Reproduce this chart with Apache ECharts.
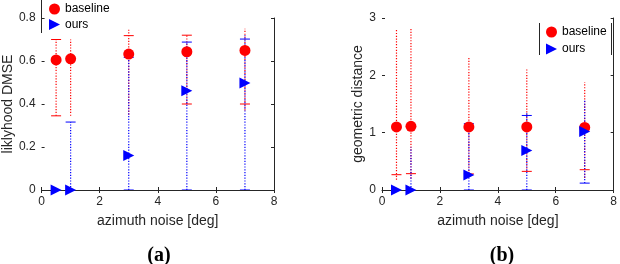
<!DOCTYPE html>
<html>
<head>
<meta charset="utf-8">
<script src="https://cdn.jsdelivr.net/npm/echarts@6/dist/echarts.min.js"></script>
<style>html,body{margin:0;padding:0;background:#fff}#c{width:620px;height:264px}</style>
</head>
<body>
<div id="c"></div>
<script>
// ---- data ----
const noise = [0.5, 1, 3, 5, 7];
const xTicks = [0, 2, 4, 6, 8];
const aYTicks = [0, 0.2, 0.4, 0.6, 0.8];
const bYTicks = [0, 1, 2, 3];

// (a) liklyhood DMSE
const aBaseMean   = [0.605, 0.61, 0.632, 0.643, 0.649];
const aBaseLineLo = [0.345, 0.345, 0.35, 0.40, 0.37];
const aBaseLineHi = [0.70, 0.70, 0.745, 0.72, 0.75];
const aBaseCapLo  = [0.345, null, null, 0.40, 0.40];
const aBaseCapHi  = [0.70, null, 0.718, 0.72, null];
const aOursMean   = [0, 0, 0.16, 0.462, 0.498];
const aOursLineLo = [0, 0, 0, 0, 0];
const aOursLineHi = [0, 0.316, 0.63, 0.688, 0.72];
const aOursCapLo  = [null, null, 0, 0, 0];
const aOursCapHi  = [null, 0.316, 0.617, 0.688, 0.702];

// (b) geometric distance
const bBaseMean   = [1.10, 1.11, 1.10, 1.10, 1.09];
const bBaseLineLo = [0.18, 0.20, 0.28, 0.325, 0.21];
const bBaseLineHi = [2.81, 2.81, 2.33, 2.10, 1.88];
const bBaseCapLo  = [0.267, 0.285, 0.28, 0.325, 0.354];
const bBaseCapHi  = [null, null, null, null, null];
const bOursMean   = [0, 0, 0.26, 0.69, 1.02];
const bOursLineLo = [0, 0, 0, 0, 0.12];
const bOursLineHi = [0, 0.74, 1.16, 1.35, 1.575];
const bOursCapLo  = [null, null, 0, 0, 0.12];
const bOursCapHi  = [null, null, 1.157, 1.30, null];

const RED = '#ff0000', BLUE = '#0000ff', AX = '#262626';
const TRI = 'path://M0,0L10,5L0,10Z';
const FONT = 'Liberation Sans, Arial, sans-serif';

function errSeries(name, xi, yi, lo, hi, capLo, capHi, color) {
  return {
    type: 'custom', name: name, xAxisIndex: xi, yAxisIndex: yi, clip: true,
    data: noise.map((x, i) => [x, lo[i], hi[i]]),
    renderItem: function (params, api) {
      const i = params.dataIndex;
      const x = noise[i];
      const p1 = api.coord([x, lo[i]]), p2 = api.coord([x, hi[i]]);
      const children = [{
        type: 'line', shape: {x1: p1[0], y1: p1[1], x2: p2[0], y2: p2[1]},
        style: {stroke: color, lineWidth: 1.2, lineDash: [1.2, 1.6]}
      }];
      [capLo[i], capHi[i]].forEach(v => {
        if (v === null) return;
        const c = api.coord([x, v]);
        children.push({type: 'line', shape: {x1: c[0] - 5, y1: c[1], x2: c[0] + 5, y2: c[1]},
          style: {stroke: color, lineWidth: 1}});
      });
      return {type: 'group', children: children};
    },
    silent: true
  };
}
function markSeries(name, xi, yi, mean, color, symbol) {
  return {
    type: 'scatter', name: name, xAxisIndex: xi, yAxisIndex: yi,
    data: noise.map((x, i) => [x, mean[i]]),
    symbol: symbol, symbolSize: 11, itemStyle: {color: color, opacity: 1},
    clip: false
  };
}

const xBase = (gi) => ({
  type: 'value', gridIndex: gi, min: 0, max: 8, interval: 2,
  axisLine: {show: true, onZero: false, lineStyle: {color: AX, width: 1}},
  axisTick: {show: true, inside: true, length: 3, lineStyle: {color: AX}},
  axisLabel: {color: AX, fontSize: 12, fontFamily: FONT, margin: 6,
    customValues: xTicks},
  splitLine: {show: false},
  name: 'azimuth noise [deg]', nameLocation: 'middle', nameGap: 24,
  nameTextStyle: {color: AX, fontSize: 14, fontFamily: FONT}
});
const xTop = (gi) => ({
  type: 'value', gridIndex: gi, position: 'top', min: 0, max: 8, interval: 2,
  axisLine: {show: false}, axisTick: {show: true, inside: true, length: 3, lineStyle: {color: AX}},
  axisLabel: {show: false}, splitLine: {show: false}
});
const yLeft = (gi, max, interval, name, gap, ticks) => ({
  type: 'value', gridIndex: gi, min: 0, max: max, interval: interval,
  axisLine: {show: false},
  axisTick: {show: true, inside: true, length: 3, lineStyle: {color: AX}},
  axisLabel: {color: AX, fontSize: 12, fontFamily: FONT, margin: 6,
    customValues: ticks,
    formatter: v => String(Math.round(v * 10) / 10)},
  splitLine: {show: false},
  name: name, nameLocation: 'middle', nameGap: gap,
  nameTextStyle: {color: AX, fontSize: 14, fontFamily: FONT}
});
const yRight = (gi, max, interval) => ({
  type: 'value', gridIndex: gi, position: 'right', min: 0, max: max, interval: interval,
  axisLine: {show: true, onZero: false, lineStyle: {color: AX, width: 1}},
  axisTick: {show: true, inside: true, length: 3, lineStyle: {color: AX}},
  axisLabel: {show: false}, splitLine: {show: false}
});

const legendCommon = {
  orient: 'vertical', padding: 0, itemWidth: 11, itemHeight: 11, itemGap: 4,
  textStyle: {color: '#000', fontSize: 12, fontFamily: FONT},
  data: [{name: 'baseline', icon: 'circle'}, {name: 'ours', icon: TRI}],
  selectedMode: false
};

const option = {
  animation: false,
  backgroundColor: '#fff',
  grid: [
    {left: 39, top: 18, width: 235, height: 172},
    {left: 382, top: 18, width: 235, height: 172}
  ],
  xAxis: [xBase(0), xBase(1), xTop(0), xTop(1)],
  yAxis: [
    yLeft(0, 0.8, 0.2, 'liklyhood DMSE', 25, aYTicks),
    yLeft(1, 3, 1, 'geometric distance', 13, bYTicks),
    yRight(0, 0.8, 0.2),
    yRight(1, 3, 1)
  ],
  legend: [
    Object.assign({}, legendCommon, {left: 49, top: 3, itemGap: 3.5}),
    Object.assign({}, legendCommon, {left: 546, top: 26, itemGap: 5})
  ],
  title: [
    {text: '(a)', left: 154, top: 241, textAlign: 'center',
     textStyle: {fontFamily: 'Liberation Serif, Times New Roman, serif', fontWeight: 'bold', fontSize: 20, color: '#000'}},
    {text: '(b)', left: 497, top: 241, textAlign: 'center',
     textStyle: {fontFamily: 'Liberation Serif, Times New Roman, serif', fontWeight: 'bold', fontSize: 20, color: '#000'}}
  ],
  graphic: [
    {type: 'line', shape: {x1: 41.5, y1: 0, x2: 41.5, y2: 33}, style: {stroke: AX, lineWidth: 1}},
    {type: 'line', shape: {x1: 539.5, y1: 23, x2: 539.5, y2: 55}, style: {stroke: AX, lineWidth: 1}},
    {type: 'line', shape: {x1: 611.5, y1: 23, x2: 611.5, y2: 55}, style: {stroke: AX, lineWidth: 1}}
  ],
  series: [
    errSeries('baseErrA', 0, 0, aBaseLineLo, aBaseLineHi, aBaseCapLo, aBaseCapHi, RED),
    markSeries('baseline', 0, 0, aBaseMean, RED, 'circle'),
    errSeries('oursErrA', 0, 0, aOursLineLo, aOursLineHi, aOursCapLo, aOursCapHi, BLUE),
    markSeries('ours', 0, 0, aOursMean, BLUE, TRI),
    errSeries('baseErrB', 1, 1, bBaseLineLo, bBaseLineHi, bBaseCapLo, bBaseCapHi, RED),
    markSeries('baseline', 1, 1, bBaseMean, RED, 'circle'),
    errSeries('oursErrB', 1, 1, bOursLineLo, bOursLineHi, bOursCapLo, bOursCapHi, BLUE),
    markSeries('ours', 1, 1, bOursMean, BLUE, TRI)
  ]
};
const chart = echarts.init(document.getElementById('c'), null, {renderer: 'canvas'});
chart.setOption(option);
</script>
</body>
</html>
